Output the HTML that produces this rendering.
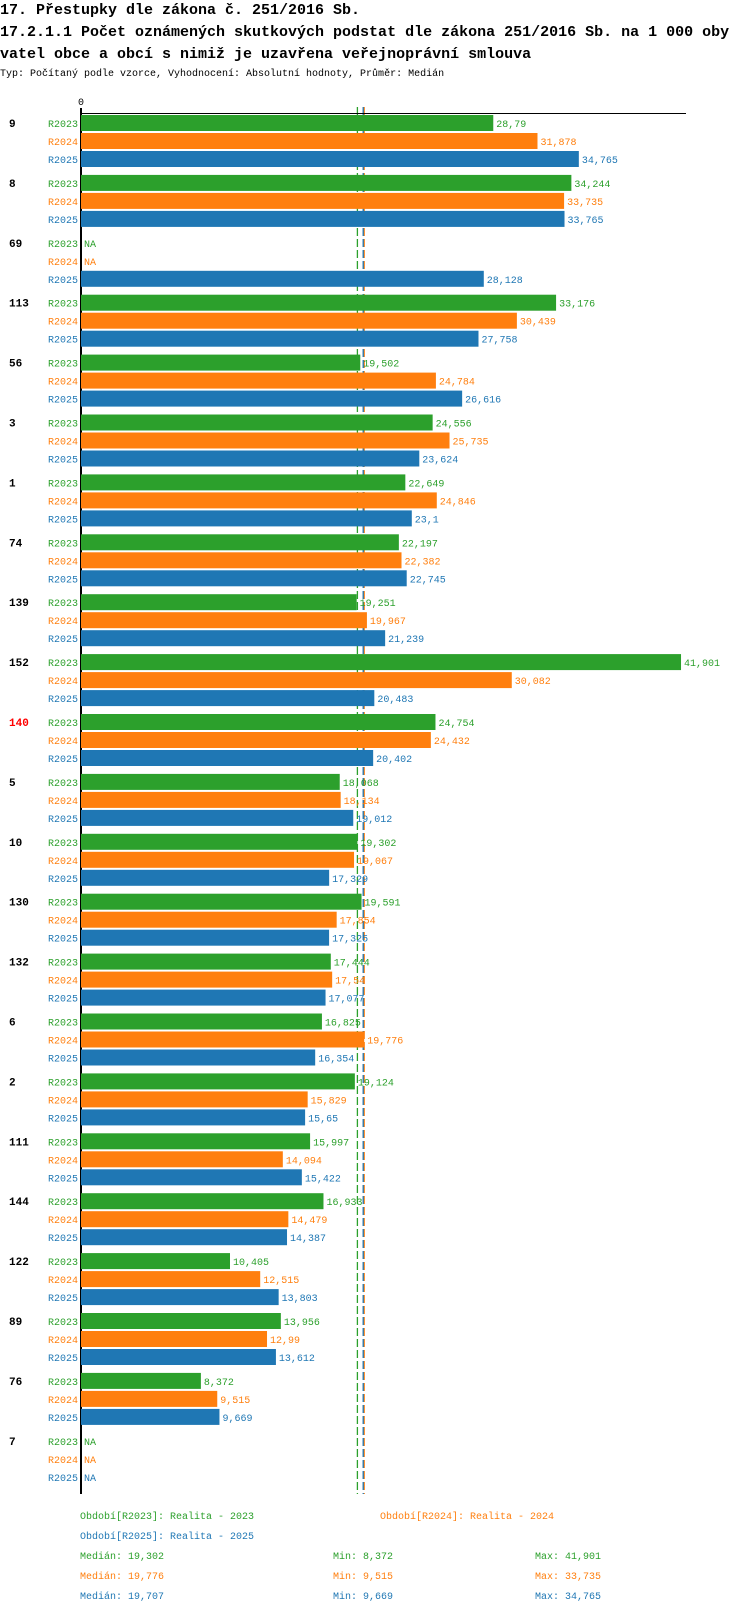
<!DOCTYPE html>
<html><head><meta charset="utf-8"><style>
body{margin:0;background:#fff;width:750px;height:1614px;overflow:hidden}
svg{display:block}
text{font-family:"Liberation Mono",monospace}
</style></head><body>
<svg id="c" width="750" height="1614">
<text x="0" y="14" font-size="15" font-weight="bold">17. Přestupky dle zákona č. 251/2016 Sb.</text>
<text x="0" y="36" font-size="15" font-weight="bold">17.2.1.1 Počet oznámených skutkových podstat dle zákona 251/2016 Sb. na 1 000 oby</text>
<text x="0" y="58" font-size="15" font-weight="bold">vatel obce a obcí s nimiž je uzavřena veřejnoprávní smlouva</text>
<text x="0" y="76" font-size="10">Typ: Počítaný podle vzorce, Vyhodnocení: Absolutní hodnoty, Průměr: Medián</text>
<g id="g"></g>
</svg>
<script>
const categories=["9","8","69","113","56","3","1","74","139","152","140","5","10","130","132","6","2","111","144","122","89","76","7"];
const seriesNames=["R2023","R2024","R2025"];
const r2023=[28.79,34.244,null,33.176,19.502,24.556,22.649,22.197,19.251,41.901,24.754,18.068,19.302,19.591,17.444,16.825,19.124,15.997,16.933,10.405,13.956,8.372,null];
const r2024=[31.878,33.735,null,30.439,24.784,25.735,24.846,22.382,19.967,30.082,24.432,18.134,19.067,17.854,17.54,19.776,15.829,14.094,14.479,12.515,12.99,9.515,null];
const r2025=[34.765,33.765,28.128,27.758,26.616,23.624,23.1,22.745,21.239,20.483,20.402,19.012,17.329,17.325,17.077,16.354,15.65,15.422,14.387,13.803,13.612,9.669,null];
const medians=[19.302,19.776,19.707];
const mins=[8.372,9.515,9.669];
const maxs=[41.901,33.735,34.765];
const highlighted="140";
const colors=["#2ca02c","#ff7f0e","#1f77b4"];
const series=[r2023,r2024,r2025];
const NS="http://www.w3.org/2000/svg";
const g=document.getElementById('g');
const x0=81,scale=14.32,top0=115,pitch=59.9,barStep=18,barH=16;
function xs(v){return x0+v*scale;}
function gy(i){return top0+i*pitch;}
function fmt(v){return String(v).replace('.',',');}
function mk(tag,attrs,txt){const e=document.createElementNS(NS,tag);for(const k in attrs)e.setAttribute(k,attrs[k]);if(txt!==undefined)e.textContent=txt;g.appendChild(e);return e;}
const yEnd=1494;
medians.forEach((m,s)=>{
  const l=mk('line',{x1:xs(m),x2:xs(m),y1:107,y2:yEnd,stroke:colors[s],'stroke-width':1.3,'stroke-dasharray':'8,3'});
  
  
});
const ax=mk('line',{x1:x0,x2:686,y1:113.5,y2:113.5,stroke:'#000','stroke-width':1});


const ay=mk('line',{x1:x0,x2:x0,y1:108,y2:yEnd,stroke:'#000','stroke-width':2});


const z=mk('text',{x:x0,y:105,'font-size':10,'text-anchor':'middle'},'0');


categories.forEach((c,i)=>{
  const t=mk('text',{x:9,y:gy(i)+12,'font-size':11,'font-weight':'bold',fill:c===highlighted?'#ff0000':'#000'},c);
  
  
  series.forEach((arr,s)=>{
    const y=gy(i)+s*barStep;
    const lb=mk('text',{x:x0-3,y:y+12,'font-size':10,'text-anchor':'end',fill:colors[s]},seriesNames[s]);
    
    
    const v=arr[i];
    if(v===null){
      const na=mk('text',{x:x0+3,y:y+12,'font-size':10,fill:colors[s]},'NA');
      
      
    }else{
      const r=mk('rect',{x:x0,y:y,width:xs(v)-x0,height:barH,fill:colors[s]});
      
      
      const vl=mk('text',{x:xs(v)+3,y:y+12,'font-size':10,fill:colors[s]},fmt(v));
      
      
    }
  });
});
const legendRows=[[80,1519,0,"Období[R2023]: Realita - 2023"],[380,1519,1,"Období[R2024]: Realita - 2024"],[80,1539,2,"Období[R2025]: Realita - 2025"]];
legendRows.forEach(r=>{
  const t=mk('text',{x:r[0],y:r[1],'font-size':10,fill:colors[r[2]]},r[3]);
  
  
});
seriesNames.forEach((n,s)=>{
  const y=1559+s*20;
  const a=mk('text',{x:80,y:y,'font-size':10,fill:colors[s]},'Medián: '+fmt(medians[s]));
  
  
  const b=mk('text',{x:333,y:y,'font-size':10,fill:colors[s]},'Min: '+fmt(mins[s]));
  
  
  const d=mk('text',{x:535,y:y,'font-size':10,fill:colors[s]},'Max: '+fmt(maxs[s]));
  
  
});
</script>
</body></html>
